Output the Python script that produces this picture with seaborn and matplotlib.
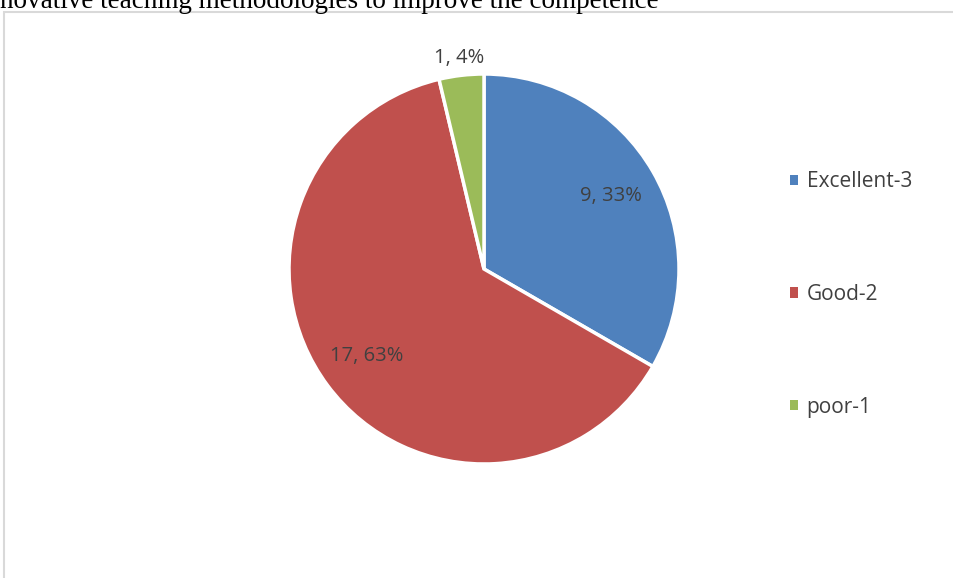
import numpy as np
import seaborn as sns
import matplotlib.pyplot as plt
from matplotlib.patches import Patch, Rectangle

# Data
categories = ["Excellent-3", "Good-2", "poor-1"]
counts = [9, 17, 1]
colors = ["#4F81BD", "#C0504D", "#9BBB59"]
title = "novative teaching methodologies to improve the competence"

sns.set_theme(style="white")
plt.rcParams["font.family"] = ["Open Sans", "DejaVu Sans"]

W, H = 954, 578
fig = plt.figure(figsize=(W / 100, H / 100), dpi=100)
ax = fig.add_axes([0, 0, 1, 1])

# chart border (cut off on right and bottom)
fig.patches.append(Rectangle((4.5 / W, -0.1), 1.2, (H - 12) / H + 0.1,
                             transform=fig.transFigure, fill=False,
                             edgecolor="#D9D9D9", linewidth=1.5))

cx, cy, r = 484, H - 269, 195
wedges, _ = ax.pie(counts, colors=colors, startangle=90, counterclock=False,
                   center=(cx, cy), radius=r, frame=True,
                   wedgeprops=dict(edgecolor="white", linewidth=2.5))
ax.set_xlim(0, W)
ax.set_ylim(0, H)
ax.set_aspect("equal")
ax.axis("off")

total = sum(counts)
dists = [0.75, 0.75, 1.09]
for w, n, d in zip(wedges, counts, dists):
    ang = np.deg2rad((w.theta1 + w.theta2) / 2)
    ax.text(cx + r * d * np.cos(ang), cy + r * d * np.sin(ang),
            f"{n}, {n / total * 100:.0f}%", ha="center", va="center",
            fontsize=14.5, color="#404040")

handles = [Patch(facecolor=c, edgecolor="none") for c in colors]
fig.legend(handles, categories, loc="center left",
           bbox_to_anchor=(790 / W, 1 - 294.5 / H), frameon=False,
           fontsize=15, labelcolor="#404040", handlelength=0.4,
           handleheight=0.4, handletextpad=0.4, labelspacing=4.4,
           borderpad=0, borderaxespad=0)

fig.text(0, 1 - 8 / H, title, ha="left", va="baseline",
         family=["Liberation Serif"], fontsize=19.5, color="black")

fig.savefig("out.png", dpi=100)
